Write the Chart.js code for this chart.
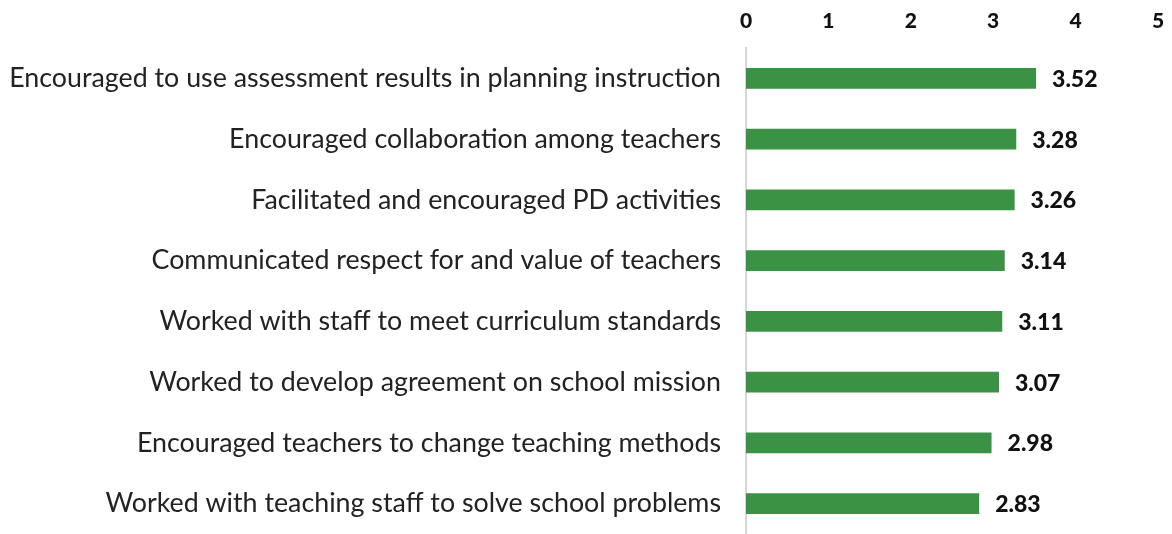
<!DOCTYPE html>
<html><head><meta charset="utf-8">
<script src="https://cdn.jsdelivr.net/npm/chart.js@4/dist/chart.umd.min.js"></script>
<style>html,body{margin:0;padding:0;background:#fff;overflow:hidden}canvas{display:block}</style>
</head><body><canvas id="c" width="1172" height="534"></canvas>
<script>
const categories = [
  "Encouraged to use assessment results in planning instruction",
  "Encouraged collaboration among teachers",
  "Facilitated and encouraged PD activities",
  "Communicated respect for and value of teachers",
  "Worked with staff to meet curriculum standards",
  "Worked to develop agreement on school mission",
  "Encouraged teachers to change teaching methods",
  "Worked with teaching staff to solve school problems"
];
const values = [3.52, 3.28, 3.26, 3.14, 3.11, 3.07, 2.98, 2.83];
const xTicks = [0, 1, 2, 3, 4, 5];

const valueLabels = {
  id: 'valueLabels',
  afterDatasetsDraw(chart) {
    const ctx = chart.ctx;
    const meta = chart.getDatasetMeta(0);
    ctx.save();
    ctx.font = '900 23px Lato';
    ctx.fillStyle = '#111';
    ctx.textAlign = 'left';
    ctx.textBaseline = 'middle';
    meta.data.forEach((bar, i) => {
      ctx.fillText(values[i].toFixed(2), bar.x + 16, bar.y + 1);
    });
    ctx.restore();
  }
};

new Chart(document.getElementById('c'), {
  type: 'bar',
  data: {
    labels: categories,
    datasets: [{
      data: values,
      backgroundColor: '#3b9144',
      borderWidth: 0,
      categoryPercentage: 1,
      barPercentage: 0.345
    }]
  },
  options: {
    indexAxis: 'y',
    responsive: false,
    maintainAspectRatio: false,
    animation: false,
    devicePixelRatio: 1,
    layout: { padding: { left: 0, right: 14, top: 0, bottom: 0 } },
    plugins: { legend: { display: false }, tooltip: { enabled: false } },
    scales: {
      x: {
        position: 'top',
        min: 0, max: 5,
        afterBuildTicks(scale) { scale.ticks = xTicks.map(v => ({ value: v })); },
        afterFit(scale) { scale.height = 48; scale.paddingLeft = 0; scale.paddingRight = 0; },
        grid: { display: false, drawTicks: false },
        border: { display: false },
        ticks: { font: { family: 'Lato', size: 21, weight: '900' }, color: '#111', padding: 14, maxRotation: 0 }
      },
      y: {
        afterFit(scale) { scale.width = 746; scale.paddingTop = 0; scale.paddingBottom = 0; },
        grid: { display: false, drawTicks: false },
        border: { display: true, color: '#d6d6d6', width: 2 },
        ticks: { font: { family: 'Lato', size: 26.8 }, color: '#222', padding: 25 }
      }
    }
  },
  plugins: [valueLabels]
});
</script></body></html>
